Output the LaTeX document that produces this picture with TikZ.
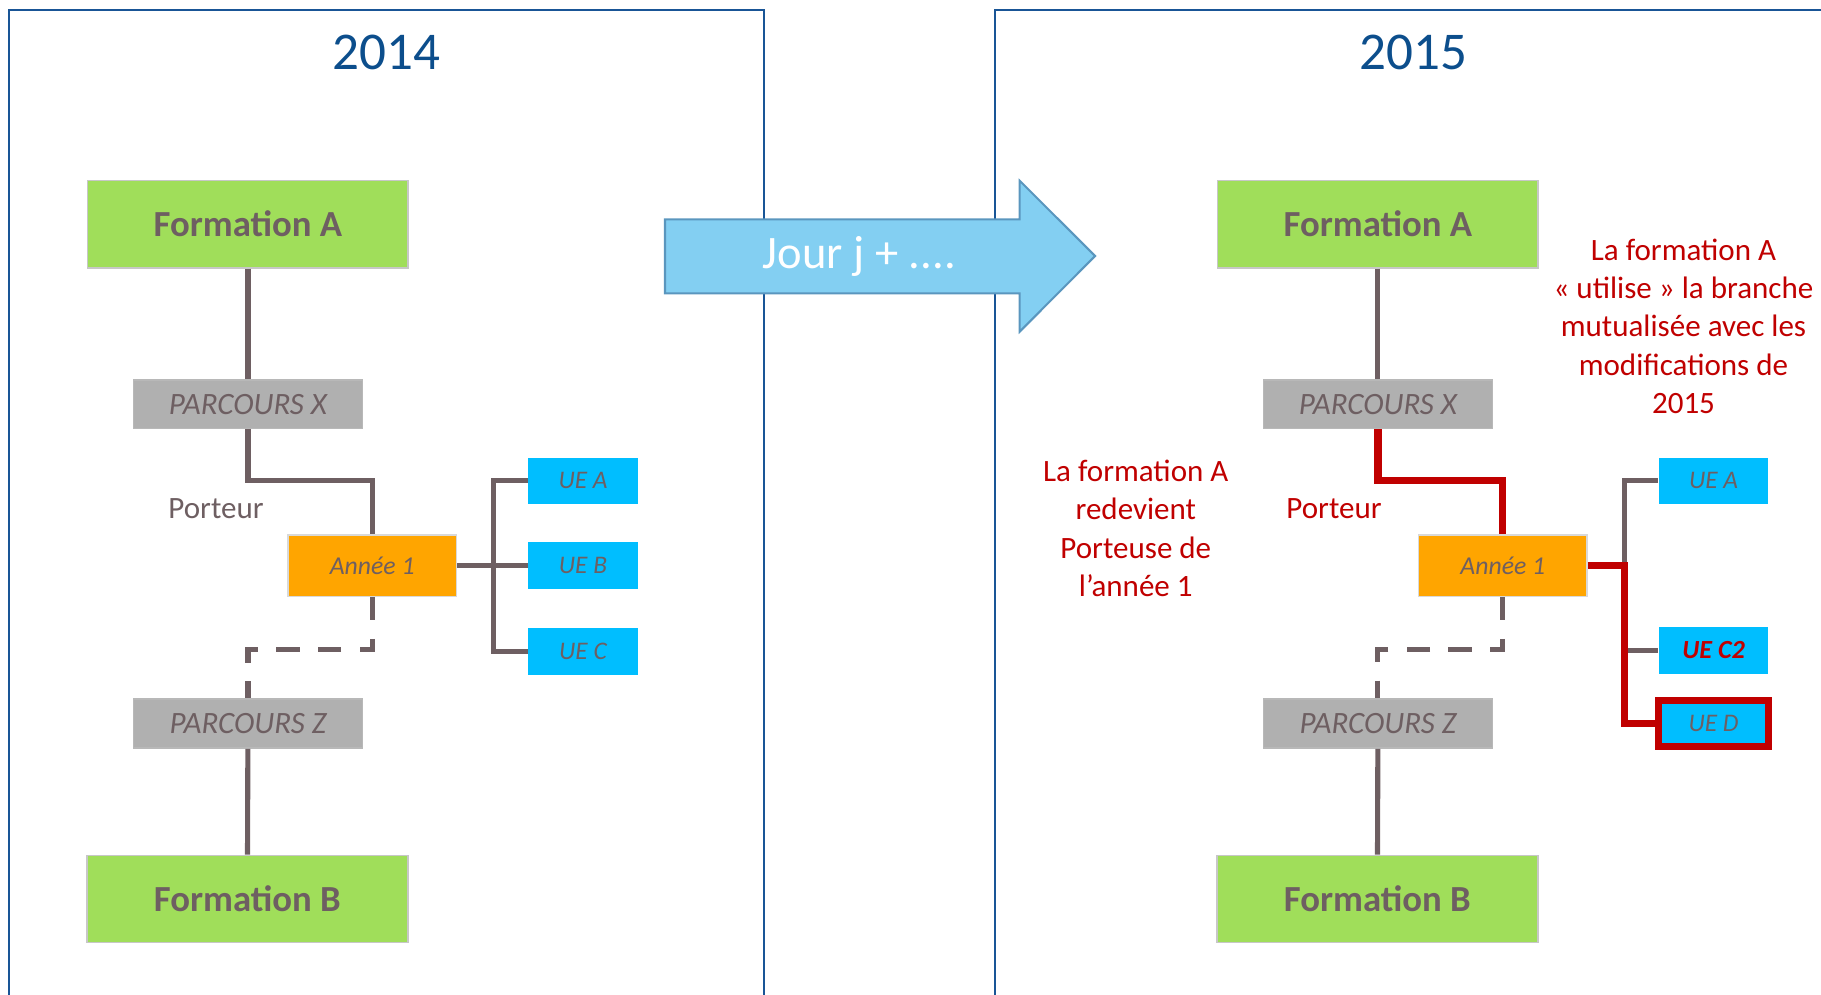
\documentclass[tikz,border=0pt]{standalone}
\usepackage{fontspec}
\setmainfont{Carlito}
\usepackage{tikz}
\usetikzlibrary{positioning,calc}
\definecolor{frameblue}{RGB}{25,85,150}
\definecolor{titleblue}{RGB}{12,78,140}
\definecolor{formgreen}{RGB}{160,222,90}
\definecolor{parcgray}{RGB}{176,176,176}
\definecolor{anorange}{RGB}{255,165,0}
\definecolor{uecyan}{RGB}{0,190,255}
\definecolor{txtgray}{RGB}{110,95,98}
\definecolor{redtxt}{RGB}{192,0,0}
\definecolor{arrowblue}{RGB}{131,207,242}
\definecolor{arrowedge}{RGB}{90,150,190}

\begin{document}
\begin{tikzpicture}[x=0.01cm, y=-0.01cm,
  every node/.style={font=\fontsize{7.6}{9.4}\selectfont, text=txtgray},
  formbox/.style={rectangle, draw=black!22, line width=0.4pt, fill=formgreen, minimum width=2.76cm, minimum height=0.75cm, inner sep=0pt, font=\fontsize{9}{11}\selectfont\bfseries},
  parcbox/.style={rectangle, draw=black!28, line width=0.4pt, fill=parcgray, minimum width=1.97cm, minimum height=0.42cm, inner sep=0pt, font=\fontsize{7.6}{9}\selectfont\itshape},
  anbox/.style={rectangle, draw=black!15, line width=0.4pt, fill=anorange, minimum width=1.45cm, minimum height=0.53cm, inner sep=0pt, font=\fontsize{6.3}{8}\selectfont\itshape},
  uebox/.style={rectangle, fill=uecyan, minimum width=0.94cm, minimum height=0.40cm, inner sep=0pt, font=\fontsize{6.2}{8}\selectfont\itshape},
  link/.style={draw=txtgray, line width=1.25pt},
  redlink/.style={draw=redtxt, line width=1.8pt},
  dashlink/.style={draw=txtgray, line width=1.25pt, dash pattern=on 5.7pt off 4.5pt},
  frame/.style={draw=frameblue, line width=0.5pt},
  year/.style={text=titleblue, font=\fontsize{13}{15}\selectfont},
  note/.style={text=redtxt, align=center}]
\useasboundingbox (0,0) rectangle (1568,856);
\clip (0,0) rectangle (1568,856);

% frames
\draw[frame] (8,9) rectangle (657.7,900);
\draw[frame] (856.8,9) rectangle (1600,900);
\node[year] (y2014) at (333,45) {2014};
\node[year] (y2015) at (1217,45) {2015};

% 2014
\node[formbox] (fA1) at (213.5,193) {Formation A};
\node[parcbox] (pX1) at (213.5,348) {PARCOURS X};
\node[anbox] (an1) at (320.5,487) {Année 1};
\node[uebox] (ueA1) at (502,414) {UE A};
\node[uebox] (ueB1) at (502,487) {UE B};
\node[uebox] (ueC1) at (502,561) {UE C};
\node[parcbox] (pZ1) at (213.5,623) {PARCOURS Z};
\node[formbox] (fB1) at (213,774) {Formation B};
\node (port1) at (186,438) {Porteur};
\coordinate (br1) at ($(an1.east)+(31,0)$);

\draw[link] (fA1) -- (pX1);
\draw[link] (pX1.south) -- ++(0,44) -| (an1.north);
\draw[link] (ueA1.west) -| (br1) |- (ueC1.west);
\draw[link] (an1.east) -- (ueB1.west);
\draw[dashlink] (an1.south) -- ++(0,45) -| (pZ1.north);
\draw[link] (pZ1) -- (fB1);

% arrow
\draw[fill=arrowblue, draw=arrowedge, line width=0.5pt] (572.6,188.9) -- (878,188.9) -- (878,155.6) -- (943,220.4) -- (878,285.6) -- (878,252.6) -- (572.6,252.6) -- cycle;
\node[text=white, font=\fontsize{11.4}{13}\selectfont] (jour) at (740,221) {Jour j + ....};

% 2015
\node[formbox] (fA2) at (1186.5,193) {Formation A};
\node[parcbox] (pX2) at (1186.5,348) {PARCOURS X};
\node[anbox] (an2) at (1294,487) {Année 1};
\node[uebox] (ueA2) at (1475.5,414) {UE A};
\node[uebox, text=redtxt, font=\fontsize{6.4}{8}\selectfont\bfseries\itshape] (ueC2) at (1475.5,560) {UE C2};
\node[uebox, draw=redtxt, line width=1.7pt] (ueD2) at (1475.5,623) {UE D};
\node[parcbox] (pZ2) at (1186.5,623) {PARCOURS Z};
\node[formbox] (fB2) at (1186,774) {Formation B};
\node[text=redtxt] (port2) at (1148.7,438) {Porteur};
\node[note] (note1) at (978,455) {La formation A\\redevient\\Porteuse de\\l’année 1};
\node[note] (note2) at (1449.6,281) {La formation A\\« utilise » la branche\\mutualisée avec les\\modifications de\\2015};
\coordinate (br2) at ($(an2.east)+(31.5,0)$);

\draw[link] (fA2) -- (pX2);
\draw[redlink] (pX2.south) -- ++(0,44) -| (an2.north);
\draw[link] (ueA2.west) -| (br2);
\draw[link] (ueC2.west) -- (ueC2.west -| br2);
\draw[redlink] (an2.east) -- (br2) |- (ueD2.west);
\draw[dashlink] (an2.south) -- ++(0,45) -| (pZ2.north);
\draw[link] (pZ2) -- (fB2);
\end{tikzpicture}
\end{document}
